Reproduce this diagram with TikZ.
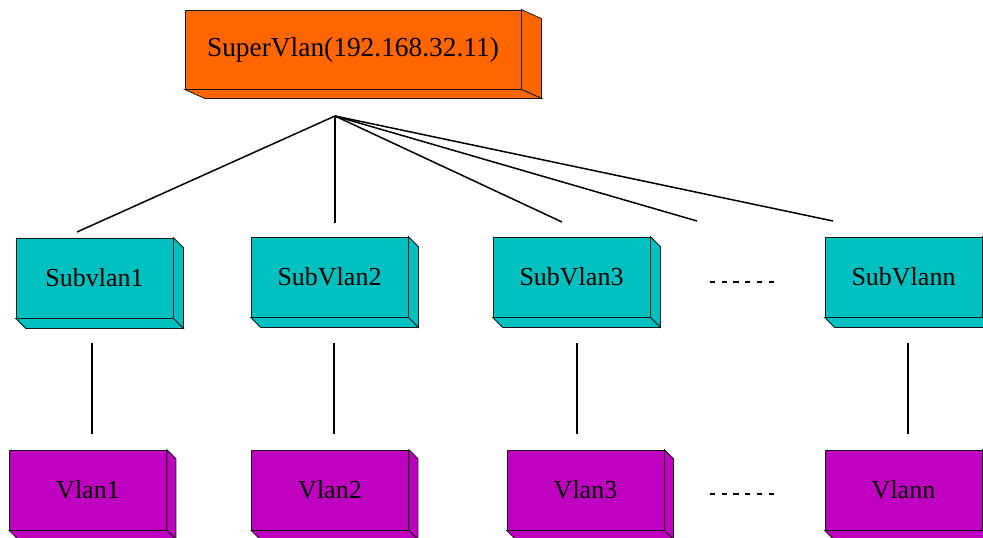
\documentclass[tikz,border=0pt]{standalone}
\usepackage{fontspec}
\setmainfont{Liberation Serif}
\definecolor{superfill}{HTML}{FF6600}
\definecolor{subfill}{HTML}{00C0C0}
\definecolor{vlanfill}{HTML}{C000C0}
\definecolor{edge}{HTML}{1A1A1A}
% right and bottom faces of an extruded block: node, dx, dy, fill colour
\newcommand\sidefaces[4]{%
  \draw[face, fill=#4] (#1.north east) -- ++(#2,#3)
    -- ([shift={(#2,#3)}]#1.south east) -- (#1.south east) -- cycle;
  \draw[face, fill=#4] (#1.south west) -- ([shift={(#2,#3)}]#1.south west)
    -- ([shift={(#2,#3)}]#1.south east) -- (#1.south east) -- cycle;}
\begin{document}
\begin{tikzpicture}[x=1pt, y=-1pt,
  face/.style={draw=edge, line width=0.8pt, line join=miter},
  front/.style={face, rectangle, inner sep=0pt, minimum width=157pt,
    minimum height=80pt, font=\fontsize{26}{30}\selectfont},
  supernode/.style={front, fill=superfill, minimum width=336pt,
    minimum height=79pt, font=\fontsize{27.4}{32}\selectfont},
  subnode/.style={front, fill=subfill},
  vlannode/.style={front, fill=vlanfill},
  link/.style={draw=black, line width=1.5pt},
  gap/.style={draw=black, line width=1.8pt, dash pattern=on 5.3pt off 6.4pt}]
\clip (0,0) rectangle (983,538);
\useasboundingbox (0,0) rectangle (983,538);

% blocks
\node[supernode] (super) at (353,49.5) {\raisebox{-2pt}{SuperVlan(192.168.32.11)}};
\sidefaces{super}{20}{9}{superfill}

\node[subnode] (sub1) at (94.5,278) {Subvlan1};
\node[subnode] (sub2) at (329.5,277) {SubVlan2};
\node[subnode] (sub3) at (571.5,277) {SubVlan3};
\node[subnode] (subn) at (903.5,277) {SubVlann};
\foreach \n in {sub1,sub2,sub3,subn} {\sidefaces{\n}{10}{10}{subfill}}

\node[vlannode] (vlan1) at (88,490) {Vlan1};
\node[vlannode] (vlan2) at (330,490) {Vlan2};
\node[vlannode] (vlan3) at (585.5,490) {Vlan3};
\node[vlannode] (vlann) at (903.5,490) {Vlann};
\foreach \n in {vlan1,vlan2,vlan3,vlann} {\sidefaces{\n}{9}{9}{vlanfill}}

% fan-out from the super VLAN
\coordinate (apex) at (335,116);
\coordinate (e1) at (77,232);
\coordinate (e2) at (335,223);
\coordinate (e3) at (562,222);
\coordinate (e4) at (697,221);
\coordinate (e5) at (833,221);
\foreach \e in {e1,e2,e3,e4,e5} {\draw[link] (apex) -- (\e);}

% sub VLAN to VLAN links
\foreach \i/\x in {1/92, 2/334, 3/577, n/908} {
  \coordinate (t\i) at (\x,343);
  \coordinate (b\i) at (\x,434);
  \draw[link] (t\i) -- (b\i);
}

% ellipsis between the third and the last column
\coordinate (ga) at (710,282);
\coordinate (gb) at (774,282);
\coordinate (gc) at (710,494);
\coordinate (gd) at (774,494);
\draw[gap] (ga) -- (gb);
\draw[gap] (gc) -- (gd);
\end{tikzpicture}
\end{document}
